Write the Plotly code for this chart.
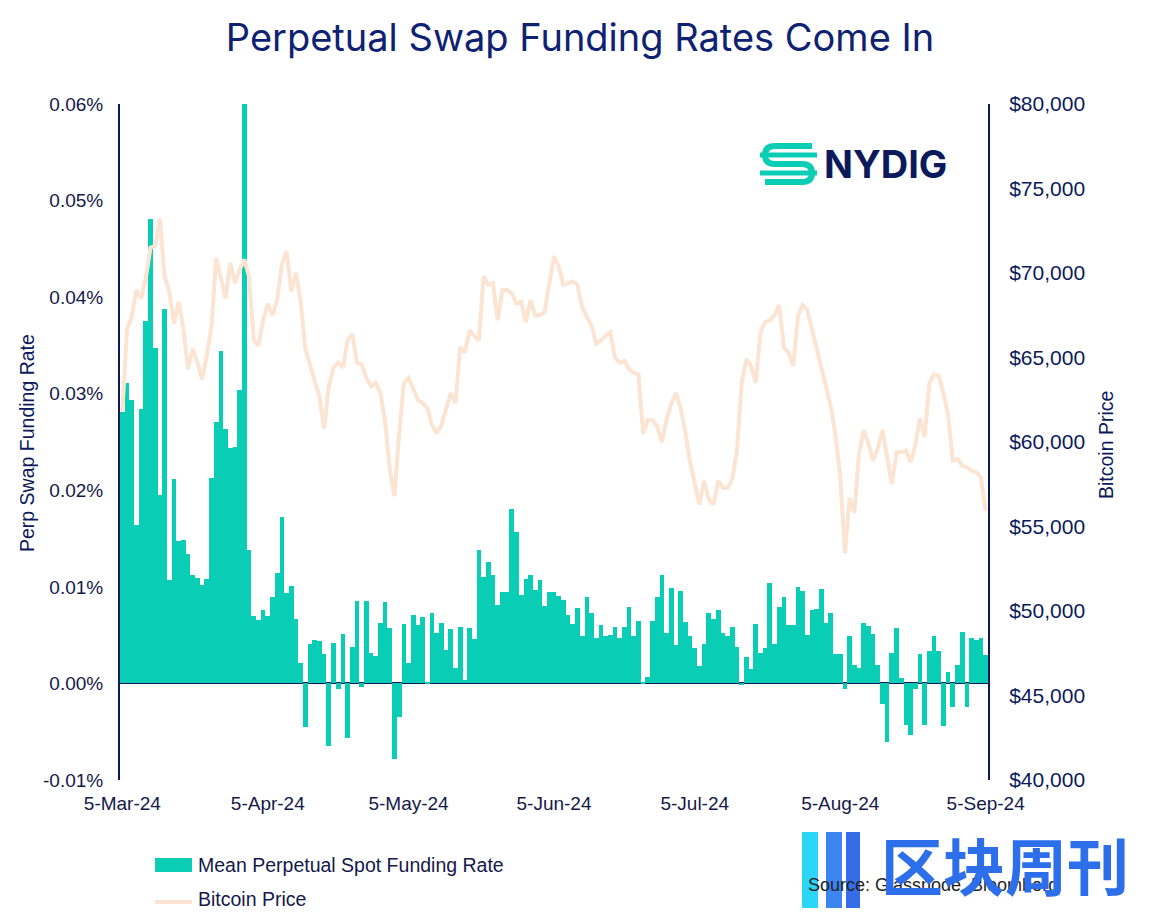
import pandas as pd
import plotly.graph_objects as go

# ---------------- data ----------------
dates = pd.date_range("2024-03-05", "2024-09-05", freq="D").strftime("%Y-%m-%d").tolist()

funding_rate = [  # mean perpetual funding rate, %
    0.0281, 0.0311, 0.0294, 0.0164, 0.0284, 0.0375, 0.0481, 0.0347, 0.0195, 0.0388,
    0.0107, 0.0212, 0.0147, 0.0149, 0.0134, 0.0112, 0.0109, 0.0102, 0.0108, 0.0213,
    0.0271, 0.0344, 0.0263, 0.0244, 0.0245, 0.0304, 0.0600, 0.0138, 0.0070, 0.0066,
    0.0076,
    0.0070, 0.0090, 0.0114, 0.0172, 0.0094, 0.0101, 0.0067, 0.0021, -0.0045, 0.0041,
    0.0045, 0.0044, 0.0030, -0.0065, 0.0042, -0.0006, 0.0051, -0.0056, 0.0038, 0.0085,
    -0.0004, 0.0085, 0.0031, 0.0028, 0.0063, 0.0084, 0.0057, -0.0078, -0.0035, 0.0062,
    0.0021, 0.0071, 0.0060, 0.0069, 0.0002, 0.0073, 0.0052, 0.0063, 0.0035, 0.0056,
    0.0016, 0.0058, 0.0004, 0.0057, 0.0046, 0.0138, 0.0110, 0.0126, 0.0112, 0.0081,
    0.0095, 0.0095, 0.0181, 0.0157, 0.0092, 0.0108, 0.0112, 0.0097, 0.0107, 0.0080,
    0.0095, 0.0095, 0.0091, 0.0086, 0.0071, 0.0062, 0.0078, 0.0049, 0.0090, 0.0073,
    0.0047, 0.0060, 0.0049, 0.0050, 0.0058, 0.0047, 0.0058, 0.0079, 0.0049, 0.0065,
    0.0002, 0.0007, 0.0065, 0.0090, 0.0112, 0.0052, 0.0099, 0.0040, 0.0096, 0.0064,
    0.0049, 0.0037,
    0.0018, 0.0041, 0.0073, 0.0067, 0.0076, 0.0052, 0.0049, 0.0058, 0.0038, -0.0001,
    0.0027, 0.0015, 0.0062, 0.0032, 0.0037, 0.0104, 0.0041, 0.0079, 0.0089, 0.0060,
    0.0060, 0.0100, 0.0096, 0.0050, 0.0076, 0.0077, 0.0098, 0.0063, 0.0073, 0.0030,
    0.0030,
    -0.0006, 0.0049, 0.0019, 0.0016, 0.0063, 0.0059, 0.0051, 0.0019, -0.0021, -0.0061,
    0.0031, 0.0057, 0.0006, -0.0043, -0.0053, -0.0006, 0.0030, -0.0043, 0.0034, 0.0049,
    0.0034, -0.0044, 0.0012, -0.0024, 0.0019, 0.0053, -0.0024, 0.0047, 0.0045, 0.0047,
    0.0029,
]

btc_price = [
    61800, 66700, 67400, 69000, 68500, 69700, 71500, 71600, 73200, 69800,
    68900, 67000, 68300, 66700, 64300, 65500, 64700, 63700, 65100, 66800,
    70900, 69800, 68500, 70600, 69400, 70200, 70800, 69800, 66000, 65700,
    67200, 68200, 67500, 68400, 70500, 71300, 68900, 70000, 68300, 65500,
    64600, 63800, 62700, 60800, 63300, 64400, 64700, 64400, 66000, 66400,
    64700, 64600, 63800, 63300, 63500, 62900, 61200, 58400, 56800, 60500,
    63500, 63800, 63100, 62500, 62300, 62000, 61000, 60500, 61000, 61900,
    62900, 62300, 65600, 65300, 66600, 66300, 66000, 69800, 69300, 69400,
    67200, 69000, 69000, 68800, 68200, 68300, 67100, 68400, 67500, 67500,
    67700, 69400, 71000, 70400, 69300, 69400, 69500, 69300, 68000, 67400,
    66900, 65800, 66000, 66300, 66500, 65000, 64700, 64800, 64300, 64100,
    64000, 60500, 61300, 61300, 60900, 60000, 61300, 62300, 62900, 62000,
    60600, 58800, 57500, 56300, 57700, 56600, 56300, 57700, 57300, 57300,
    57800, 59500, 63500, 64900, 64500, 63500, 66500, 67100, 67200, 67500,
    68100, 65600, 65300, 64500, 67500, 68100, 67800, 66700, 65400, 64400,
    63200, 62100, 60400, 58000, 53400, 56700, 55800, 59300, 60700, 59900,
    58900, 59600, 60700, 59000, 57500, 59400, 59400, 59500, 58800, 59800,
    61400, 60300, 63500, 64000, 63900, 62900, 61600, 58900, 59000, 58600,
    58500, 58300, 58200, 57900, 55900,
]

tick_dates = ["2024-03-05", "2024-04-05", "2024-05-05", "2024-06-05",
              "2024-07-05", "2024-08-05", "2024-09-05"]
tick_labels = ["5-Mar-24", "5-Apr-24", "5-May-24", "5-Jun-24",
               "5-Jul-24", "5-Aug-24", "5-Sep-24"]
rate_ticks = [-0.01, 0.0, 0.01, 0.02, 0.03, 0.04, 0.05, 0.06]

# ---------------- style ----------------
OFF = 8                      # page body margin of the html
W, H = 1160 - OFF, 918 - OFF
L, R, T, B = 120, 988, 104, 780   # plot area in page pixels
TEAL = "#0ACDB5"
PEACH = "#FCE4D3"
NAVY = "#0C1A5C"
TXT = "#15194A"
FONT = "Liberation Sans"


def px(x):
    return (x - L) / (R - L)


def py(y):
    return (B - y) / (B - T)


fig = go.Figure()
fig.add_trace(go.Bar(
    x=dates, y=funding_rate, name="Mean Perpetual Spot Funding Rate",
    marker=dict(color=TEAL, line=dict(width=0)), width=86400000,
    showlegend=False,
))
fig.add_trace(go.Scatter(
    x=dates, y=btc_price, name="Bitcoin Price", yaxis="y2", mode="lines",
    line=dict(color=PEACH, width=4), showlegend=False,
))

shapes = []
annotations = []

# custom legend
shapes.append(dict(type="rect", xref="paper", yref="paper",
                   x0=px(155), x1=px(192), y0=py(872), y1=py(858),
                   fillcolor=TEAL, line=dict(width=0)))
shapes.append(dict(type="line", xref="paper", yref="paper",
                   x0=px(155), x1=px(192), y0=py(902), y1=py(902),
                   line=dict(color=PEACH, width=4)))
annotations.append(dict(xref="paper", yref="paper", x=px(196), y=py(865),
                        text="Mean Perpetual Spot Funding Rate", showarrow=False,
                        xanchor="left", yanchor="middle",
                        font=dict(family=FONT, size=19.5, color=TXT)))
annotations.append(dict(xref="paper", yref="paper", x=px(196), y=py(899),
                        text="Bitcoin Price", showarrow=False,
                        xanchor="left", yanchor="middle",
                        font=dict(family=FONT, size=19.5, color=TXT)))

# axis titles
annotations.append(dict(xref="paper", yref="paper", x=px(27), y=py(443),
                        text="Perp Swap Funding Rate", textangle=-90, showarrow=False,
                        xanchor="center", yanchor="middle",
                        font=dict(family=FONT, size=19.5, color=NAVY)))
annotations.append(dict(xref="paper", yref="paper", x=px(1106), y=py(445),
                        text="Bitcoin Price", textangle=-90, showarrow=False,
                        xanchor="center", yanchor="middle",
                        font=dict(family=FONT, size=19.5, color=NAVY)))

# source + watermark
annotations.append(dict(xref="paper", yref="paper", x=px(806), y=py(885),
                        text="Source: Glassnode, Bloomberg", showarrow=False,
                        xanchor="left", yanchor="middle",
                        font=dict(family=FONT, size=18, color="#222222")))
for x0, x1, col in [(802, 818, "#19D3F5"), (826, 842, "#2C7BF0"), (846, 860, "#2461E6")]:
    shapes.append(dict(type="rect", xref="paper", yref="paper",
                       x0=px(x0), x1=px(x1), y0=py(908), y1=py(832),
                       fillcolor=col, line=dict(width=0), opacity=0.92))
annotations.append(dict(xref="paper", yref="paper", x=px(1005), y=py(864),
                        text="区块周刊", showarrow=False,
                        xanchor="center", yanchor="middle",
                        font=dict(family="Noto Sans CJK SC", size=62, weight=700,
                                  color="#2D6FEA")))

# NYDIG logo
annotations.append(dict(xref="paper", yref="paper", x=px(822), y=py(164),
                        text="<b>NYDIG</b>", showarrow=False,
                        xanchor="left", yanchor="middle",
                        font=dict(family="Inter", size=38, color=NAVY)))


def P(x, y):
    return f"{px(x)},{py(y)}"


logo_path = ("M " + P(812, 146) + " L " + P(775, 146) + " Q " + P(765, 146) + " " + P(765, 155)
             + " Q " + P(765, 164) + " " + P(775, 164) + " L " + P(802, 164)
             + " Q " + P(812, 164) + " " + P(812, 173) + " Q " + P(812, 182) + " " + P(802, 182)
             + " L " + P(765, 182))
shapes.append(dict(type="path", xref="paper", yref="paper", path=logo_path,
                   line=dict(color=TEAL, width=6)))
for yy in (155, 173):
    shapes.append(dict(type="line", xref="paper", yref="paper",
                       x0=px(760), x1=px(817), y0=py(yy), y1=py(yy),
                       line=dict(color=TEAL, width=5)))

fig.update_layout(
    width=W, height=H, autosize=False,
    margin=dict(l=L - OFF, r=W - (R - OFF), t=T - OFF, b=H - (B - OFF), pad=0),
    paper_bgcolor="white", plot_bgcolor="white",
    title=dict(text="Perpetual Swap Funding Rates Come In", x=0.5 + (580 - OFF - W / 2) / W,
               xanchor="center", y=1 - (38 - OFF) / H, yanchor="middle", yref="container",
               font=dict(family="Inter", size=38, weight=400, color="#0E2271")),
    bargap=0,
    xaxis=dict(type="date", range=["2024-03-04 12:00", "2024-09-05 12:00"],
               tickvals=tick_dates, ticktext=tick_labels, showgrid=False,
               showline=False, ticks="", ticklabelstandoff=10,
               tickfont=dict(family=FONT, size=19, color=TXT), zeroline=False),
    yaxis=dict(range=[-0.01, 0.06], tickvals=rate_ticks,
               ticktext=[f"{v:.2f}%" for v in rate_ticks],
               showgrid=False, showline=True, linecolor=NAVY, linewidth=2,
               zeroline=True, zerolinecolor=NAVY, zerolinewidth=2, ticks="",
               ticklabelstandoff=11,
               tickfont=dict(family=FONT, size=19, color=TXT)),
    yaxis2=dict(range=[40000, 80000], dtick=5000, tickprefix="$", tickformat=",d",
                overlaying="y", side="right", showgrid=False, showline=True,
                linecolor=NAVY, linewidth=2, zeroline=False, ticks="",
                ticklabelstandoff=15,
                tickfont=dict(family=FONT, size=21, color=NAVY)),
    shapes=shapes, annotations=annotations,
)

fig.write_html("out.html")
